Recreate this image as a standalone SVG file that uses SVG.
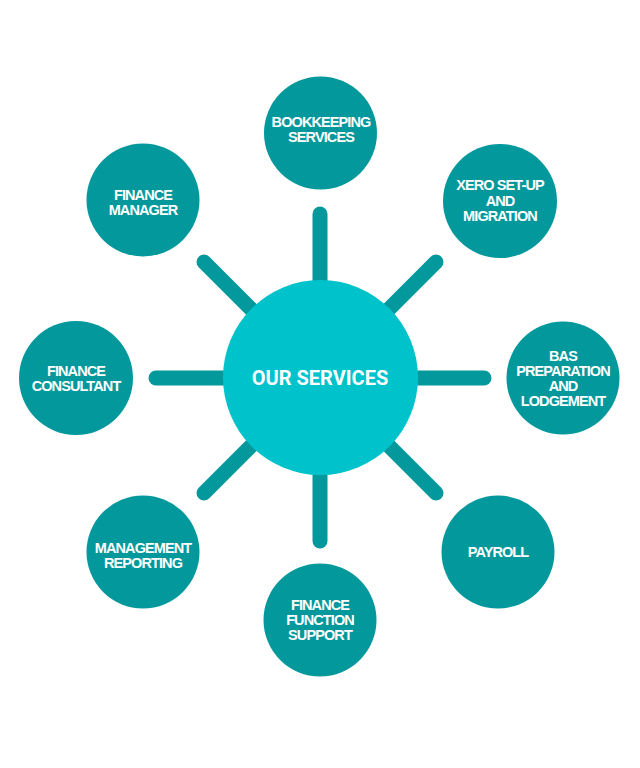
<svg xmlns="http://www.w3.org/2000/svg" width="640" height="768" viewBox="0 0 640 768">
<style>
.spoke{stroke:#03989c;stroke-width:15;stroke-linecap:round;fill:none}
.node{fill:#03989c}
.hub{fill:#00c2cb}
.lbl{font-family:"Liberation Sans",Arial,sans-serif;font-weight:bold;font-size:14.5px;letter-spacing:-0.9px;fill:#ffffff;text-anchor:middle}
.hubl{font-family:Roboto,"Liberation Sans",sans-serif;font-weight:bold;font-size:20px;fill:#ffffff;text-anchor:middle}
</style>
<rect width="640" height="768" fill="#ffffff"/>
<g id="connectors">
<line class="spoke" x1="320" y1="214" x2="320" y2="300"/>
<line class="spoke" x1="320" y1="541" x2="320" y2="455"/>
<line class="spoke" x1="156" y1="378" x2="240" y2="378"/>
<line class="spoke" x1="484" y1="378" x2="400" y2="378"/>
<line class="spoke" x1="204" y1="262" x2="260" y2="318"/>
<line class="spoke" x1="436" y1="262" x2="380" y2="318"/>
<line class="spoke" x1="204" y1="493" x2="260" y2="437"/>
<line class="spoke" x1="436" y1="493" x2="380" y2="437"/>
</g>
<g id="hub">
<circle class="hub" cx="320.5" cy="377.5" r="97.5"/>
<text class="hubl" x="320" y="385">OUR SERVICES</text>
</g>
<g id="bookkeeping">
<circle class="node" cx="320.5" cy="133" r="56.5"/>
<text class="lbl" x="321" y="127">BOOKKEEPING</text>
<text class="lbl" x="321" y="142">SERVICES</text>
</g>
<g id="xero">
<circle class="node" cx="500" cy="201" r="57"/>
<text class="lbl" x="500" y="190">XERO SET-UP</text>
<text class="lbl" x="500" y="205.5">AND</text>
<text class="lbl" x="500" y="221">MIGRATION</text>
</g>
<g id="bas">
<circle class="node" cx="563" cy="378" r="56.5"/>
<text class="lbl" x="563" y="360.5">BAS</text>
<text class="lbl" x="563" y="375.5">PREPARATION</text>
<text class="lbl" x="563" y="391">AND</text>
<text class="lbl" x="563" y="406">LODGEMENT</text>
</g>
<g id="payroll">
<circle class="node" cx="498" cy="552" r="56.5"/>
<text class="lbl" x="498" y="557">PAYROLL</text>
</g>
<g id="finance-function-support">
<circle class="node" cx="320" cy="620" r="56.5"/>
<text class="lbl" x="320" y="610">FINANCE</text>
<text class="lbl" x="320" y="625">FUNCTION</text>
<text class="lbl" x="320" y="640">SUPPORT</text>
</g>
<g id="management-reporting">
<circle class="node" cx="143" cy="552" r="56.5"/>
<text class="lbl" x="143" y="553">MANAGEMENT</text>
<text class="lbl" x="143" y="568">REPORTING</text>
</g>
<g id="finance-consultant">
<circle class="node" cx="76" cy="378" r="57"/>
<text class="lbl" x="76" y="376">FINANCE</text>
<text class="lbl" x="76" y="391">CONSULTANT</text>
</g>
<g id="finance-manager">
<circle class="node" cx="143" cy="200" r="56.5"/>
<text class="lbl" x="143" y="200">FINANCE</text>
<text class="lbl" x="143" y="215">MANAGER</text>
</g>
</svg>
